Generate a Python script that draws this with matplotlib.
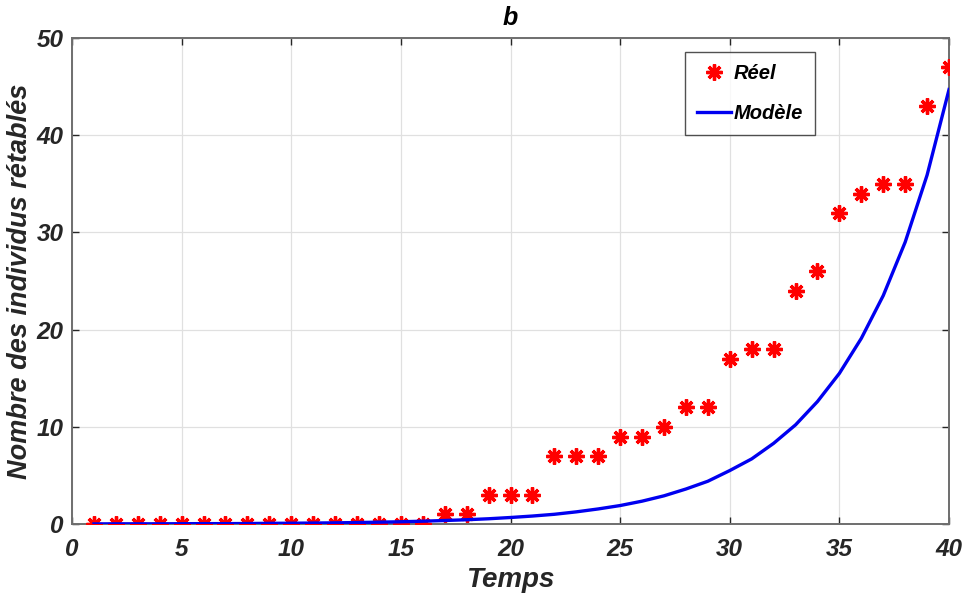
import numpy as np
import matplotlib
matplotlib.use("Agg")
import matplotlib.pyplot as plt

# data
temps = list(range(1, 41))
reel = [0, 0, 0, 0, 0, 0, 0, 0, 0, 0, 0, 0, 0, 0, 0, 0,
        1, 1, 3, 3, 3, 7, 7, 7, 9, 9, 10, 12, 12, 17,
        18, 18, 24, 26, 32, 34, 35, 35, 43, 47]
modele = [0.01, 0.02, 0.02, 0.02, 0.03, 0.04, 0.04, 0.05, 0.07, 0.08,
          0.10, 0.12, 0.15, 0.19, 0.23, 0.29, 0.36, 0.44, 0.54, 0.67,
          0.82, 1.0, 1.25, 1.55, 1.9, 2.35, 2.9, 3.6, 4.4, 5.5,
          6.7, 8.3, 10.2, 12.6, 15.5, 19.1, 23.5, 29.0, 35.9, 44.7]
xticks = [0, 5, 10, 15, 20, 25, 30, 35, 40]
yticks = [0, 10, 20, 30, 40, 50]

plt.rcParams['font.family'] = ['Liberation Sans', 'DejaVu Sans']
txt = dict(fontweight='bold', fontstyle='italic', color='#262626')

fig = plt.figure(figsize=(9.68, 6.03), dpi=100)
ax = fig.add_axes([0.0744, 0.131, 0.906, 0.806])

ax.plot(temps, reel, linestyle='none', marker=(8, 2, 0), color='red',
        markersize=11.5, markeredgewidth=2.4, label='Réel', zorder=3)
ax.plot(temps, modele, color='#0000f0', linewidth=2.4, label='Modèle', zorder=4)

ax.set_xlim(0, 40)
ax.set_ylim(0, 50)
ax.set_xticks(xticks)
ax.set_yticks(yticks)
ax.grid(True, color='#e0e0e0', linewidth=0.9)
ax.set_axisbelow(True)
ax.tick_params(direction='in', length=5, width=1, top=True, right=True,
               colors='#262626', labelsize=17.5, pad=6)
ax.tick_params(axis='x', pad=10)
for lab in ax.get_xticklabels() + ax.get_yticklabels():
    lab.set_fontweight('bold')
    lab.set_fontstyle('italic')
for sp in ax.spines.values():
    sp.set_color('#6e6e6e')
    sp.set_linewidth(1.4)

ax.set_xlabel('Temps', fontsize=20, **txt)
ax.set_ylabel('Nombre des individus rétablés', fontsize=19.5, **txt)
ax.xaxis.set_label_coords(0.5, -0.088)
ax.yaxis.set_label_coords(-0.044, 0.5)
ax.set_title('b', fontsize=18, pad=9, fontweight='bold', fontstyle='italic')

leg = ax.legend(loc='upper left', bbox_to_anchor=(0.699, 0.972), fontsize=14.5,
                frameon=True, fancybox=False, borderpad=0.6, handlelength=1.7,
                labelspacing=1.05, handletextpad=0.1, borderaxespad=0)
leg.get_frame().set_edgecolor('#262626')
leg.get_frame().set_linewidth(1.0)
for t in leg.get_texts():
    t.set_fontweight('bold')
    t.set_fontstyle('italic')

fig.savefig('out.png', dpi=100)
